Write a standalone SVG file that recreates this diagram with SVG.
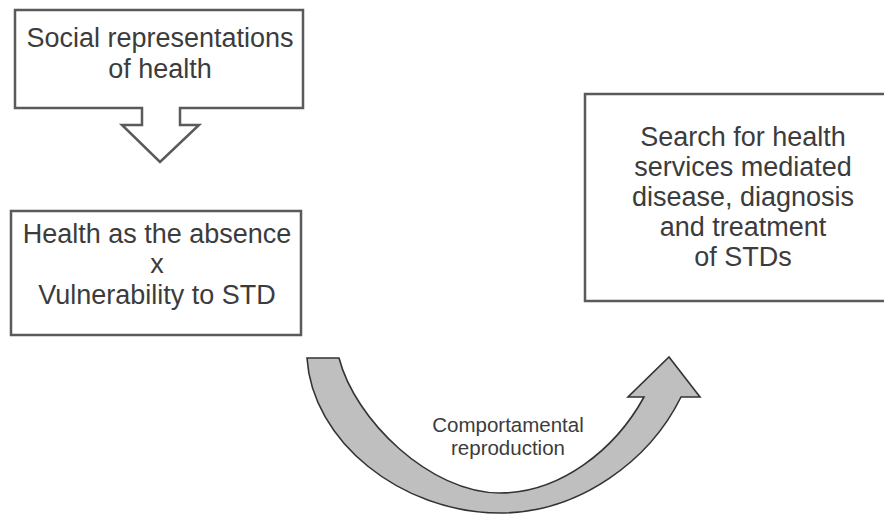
<svg xmlns="http://www.w3.org/2000/svg" width="884" height="516" viewBox="0 0 884 516">
  <style>
    .box { fill: #ffffff; stroke: #5a5a5a; stroke-width: 2.5; }
    .t { font-family: "Liberation Sans", Arial, sans-serif; font-size: 27px; fill: #3c3c3c; text-anchor: middle; }
    .lbl { font-family: "Liberation Sans", Arial, sans-serif; font-size: 20.5px; fill: #3c3c3c; text-anchor: middle; }
    .curve { fill: #bfbfbf; stroke: #333333; stroke-width: 1.6; stroke-linejoin: miter; }
  </style>
  <rect width="884" height="516" fill="#ffffff"/>
  <g id="social-representations">
    <path class="box" d="M15,10 H303 V108 H180 V125 H199 L160,162 L122,125 H142 V108 H15 Z"/>
    <text class="t" x="160" y="47">Social representations</text>
    <text class="t" x="160" y="78">of health</text>
  </g>
  <g id="health-absence">
    <rect class="box" x="11" y="211" width="290" height="124"/>
    <text class="t" x="157" y="243">Health as the absence</text>
    <text class="t" x="157" y="273">x</text>
    <text class="t" x="157" y="304">Vulnerability to STD</text>
  </g>
  <g id="search-services">
    <rect class="box" x="585" y="94" width="310" height="207"/>
    <text class="t" x="743" y="146">Search for health</text>
    <text class="t" x="743" y="176">services mediated</text>
    <text class="t" x="743" y="206">disease, diagnosis</text>
    <text class="t" x="743" y="236">and treatment</text>
    <text class="t" x="743" y="266">of STDs</text>
  </g>
  <g id="connectors">
    <path class="curve" d="M307,358 H339 C355,420 430,493 500,493 C560,493 615,450 644,397 H628 L669,357 L700,397 H681 C650,460 580,513 500,513 C400,513 312,440 307,358 Z"/>
    <text class="lbl" x="508" y="432">Comportamental</text>
    <text class="lbl" x="508" y="455">reproduction</text>
  </g>
</svg>
